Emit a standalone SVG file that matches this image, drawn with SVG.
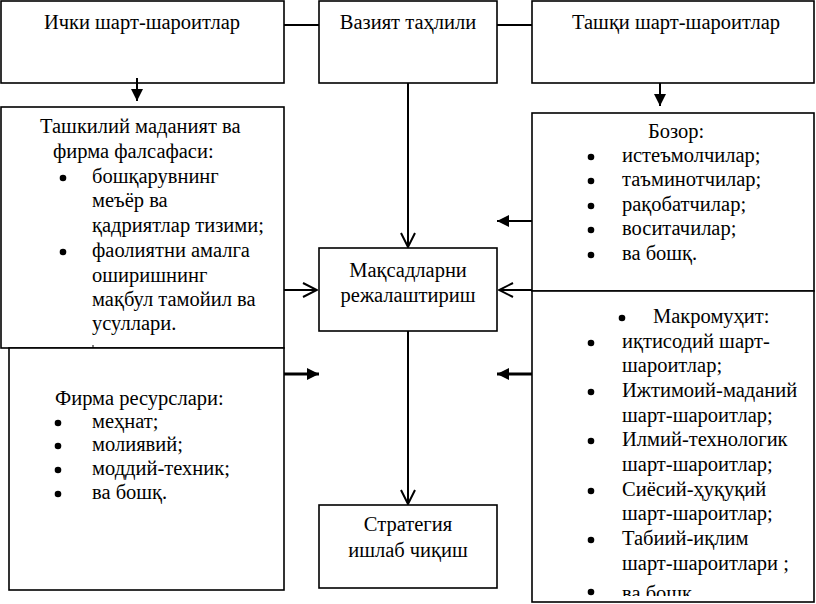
<svg xmlns="http://www.w3.org/2000/svg" width="816" height="604" viewBox="0 0 816 604">
<style>
.box{fill:#fff;stroke:#000;stroke-width:1.6}
.t{font-family:"Liberation Serif","Tinos","Times New Roman","DejaVu Serif",serif;font-size:20.5px;fill:#000}
.c{text-anchor:middle}
.ln{stroke:#000;stroke-width:2;fill:none}
.lnb{stroke:#000;stroke-width:3;fill:none}
.b{fill:#000}
</style>
<defs>
<marker id="fa" markerWidth="12" markerHeight="12" viewBox="0 0 12 12" refX="12" refY="6" orient="auto" markerUnits="userSpaceOnUse">
<path d="M0,0 L12,6 L0,12 Z" fill="#000"/>
</marker>
<marker id="oa" markerWidth="16" markerHeight="16" viewBox="0 0 16 16" refX="15" refY="8" orient="auto" markerUnits="userSpaceOnUse">
<path d="M1,1 L15,8 L1,15" fill="none" stroke="#000" stroke-width="2"/>
</marker>
<clipPath id="rclip"><rect x="532" y="291" width="284" height="305"/></clipPath>
</defs>

<g id="ichki">
<rect class="box" x="1" y="1" width="283" height="82"/>
<text class="t c" x="142" y="29">Ички шарт-шароитлар</text>
</g>
<g id="vaziyat">
<rect class="box" x="319" y="1" width="178" height="82"/>
<text class="t c" x="408" y="29">Вазият таҳлили</text>
</g>
<g id="tashqi">
<rect class="box" x="532" y="1" width="282" height="82"/>
<text class="t c" x="676" y="29">Ташқи шарт-шароитлар</text>
</g>

<g id="madaniyat">
<rect class="box" x="1" y="107" width="283" height="241"/>
<text class="t" x="40" y="133">Ташкилий маданият ва</text>
<text class="t" x="53" y="158">фирма фалсафаси:</text>
<circle class="b" cx="63" cy="178" r="3.3"/>
<text class="t" x="92" y="183">бошқарувнинг</text>
<text class="t" x="92" y="207">меъёр ва</text>
<text class="t" x="92" y="232">қадриятлар тизими;</text>
<circle class="b" cx="63" cy="252" r="3.3"/>
<text class="t" x="92" y="257">фаолиятни амалга</text>
<text class="t" x="92" y="282">оширишнинг</text>
<text class="t" x="92" y="306">мақбул тамойил ва</text>
<text class="t" x="92" y="330">усуллари.</text>
<line x1="93" y1="345" x2="93" y2="351" stroke="#000" stroke-width="1"/>
</g>

<g id="resurslar">
<rect class="box" x="9" y="348" width="275" height="242"/>
<text class="t" x="55" y="405">Фирма ресурслари:</text>
<circle class="b" cx="58" cy="423" r="3.3"/>
<text class="t" x="92" y="428">меҳнат;</text>
<circle class="b" cx="58" cy="446" r="3.3"/>
<text class="t" x="92" y="451">молиявий;</text>
<circle class="b" cx="58" cy="470" r="3.3"/>
<text class="t" x="92" y="475">моддий-техник;</text>
<circle class="b" cx="58" cy="494" r="3.3"/>
<text class="t" x="92" y="499">ва бошқ.</text>
</g>

<g id="bozor">
<rect class="box" x="532" y="113" width="282" height="178"/>
<text class="t" x="648" y="138">Бозор:</text>
<circle class="b" cx="591" cy="157" r="3.3"/>
<text class="t" x="622" y="162">истеъмолчилар;</text>
<circle class="b" cx="591" cy="181" r="3.3"/>
<text class="t" x="622" y="186">таъминотчилар;</text>
<circle class="b" cx="591" cy="206" r="3.3"/>
<text class="t" x="622" y="211">рақобатчилар;</text>
<circle class="b" cx="591" cy="230" r="3.3"/>
<text class="t" x="622" y="235">воситачилар;</text>
<circle class="b" cx="591" cy="255" r="3.3"/>
<text class="t" x="622" y="260">ва бошқ.</text>
</g>

<g id="makromuhit">
<rect class="box" x="532" y="291" width="282" height="311"/>
<g clip-path="url(#rclip)">
<circle class="b" cx="622" cy="318" r="3.3"/>
<text class="t" x="653" y="323">Макромуҳит:</text>
<circle class="b" cx="591" cy="343" r="3.3"/>
<text class="t" x="622" y="348">иқтисодий шарт-</text>
<text class="t" x="622" y="372">шароитлар;</text>
<circle class="b" cx="591" cy="392" r="3.3"/>
<text class="t" x="622" y="397">Ижтимоий-маданий</text>
<text class="t" x="622" y="422">шарт-шароитлар;</text>
<circle class="b" cx="591" cy="441" r="3.3"/>
<text class="t" x="622" y="446">Илмий-технологик</text>
<text class="t" x="622" y="471">шарт-шароитлар;</text>
<circle class="b" cx="591" cy="491" r="3.3"/>
<text class="t" x="622" y="496">Сиёсий-ҳуқуқий</text>
<text class="t" x="622" y="520">шарт-шароитлар;</text>
<circle class="b" cx="591" cy="540" r="3.3"/>
<text class="t" x="622" y="545">Табиий-иқлим</text>
<text class="t" x="622" y="570">шарт-шароитлари ;</text>
<circle class="b" cx="591" cy="592" r="3.3"/>
<text class="t" x="622" y="600">ва бошқ</text>
</g>
</g>

<g id="maqsad">
<rect class="box" x="319" y="248" width="178" height="83"/>
<text class="t c" x="408" y="277">Мақсадларни</text>
<text class="t c" x="408" y="302">режалаштириш</text>
</g>
<g id="strategiya">
<rect class="box" x="319" y="505" width="178" height="83"/>
<text class="t c" x="408" y="531">Стратегия</text>
<text class="t c" x="408" y="557">ишлаб чиқиш</text>
</g>

<g id="connectors">
<line class="ln" x1="284" y1="25" x2="319" y2="25"/>
<line class="ln" x1="497" y1="25" x2="532" y2="25"/>
<line class="ln" x1="137" y1="78" x2="137" y2="101" marker-end="url(#fa)"/>
<line class="ln" x1="660" y1="83" x2="660" y2="106" marker-end="url(#fa)"/>
<line class="ln" x1="408" y1="83" x2="408" y2="247" marker-end="url(#oa)"/>
<line class="ln" x1="284" y1="290" x2="317" y2="290" marker-end="url(#oa)"/>
<line class="ln" x1="532" y1="290" x2="499" y2="290" marker-end="url(#oa)"/>
<line class="ln" x1="532" y1="221" x2="497" y2="221" marker-end="url(#fa)"/>
<line class="lnb" x1="284" y1="374" x2="319" y2="374" marker-end="url(#fa)"/>
<line class="lnb" x1="532" y1="374" x2="497" y2="374" marker-end="url(#fa)"/>
<line class="ln" x1="408" y1="331" x2="408" y2="504" marker-end="url(#oa)"/>
</g>
</svg>
